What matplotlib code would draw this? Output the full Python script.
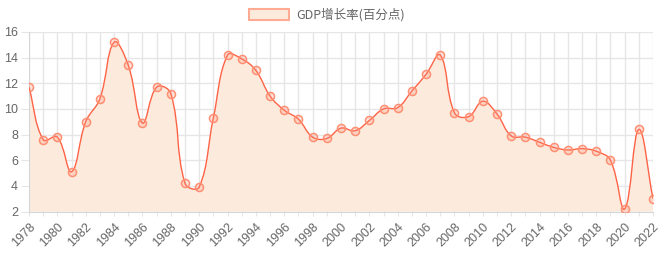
import numpy as np
import matplotlib
matplotlib.use("Agg")
import matplotlib.pyplot as plt
from matplotlib.path import Path
from matplotlib.patches import PathPatch, Rectangle

plt.rcParams['font.family'] = ['Liberation Sans', 'Noto Sans CJK SC', 'DejaVu Sans']

# DATA
years = list(range(1978, 2023))
growth = [11.7, 7.6, 7.8, 5.1, 9.0, 10.8, 15.2, 13.4, 8.9, 11.7,
          11.2, 4.2, 3.9, 9.3, 14.2, 13.9, 13.0, 11.0, 9.9, 9.2,
          7.8, 7.7, 8.5, 8.3, 9.1, 10.0, 10.1, 11.4, 12.7, 14.2,
          9.7, 9.4, 10.6, 9.6, 7.9, 7.8, 7.4, 7.0, 6.8, 6.9,
          6.7, 6.0, 2.2, 8.4, 3.0]
series_label = "GDP增长率(百分点)"
y_ticks = [2, 4, 6, 8, 10, 12, 14, 16]

LINE = "#ff6347"
MARK = "#ff8f73"
FILL = "#fcebdc"
GRID = "#e6e6e6"
TXT = "#666666"


def spline_path(ax, xs, ys, tension=0.4):
    # Chart.js style bezier smoothing, computed in pixel space
    pts = ax.transData.transform(np.column_stack([xs, ys]))
    n = len(pts)
    cps = []
    for i in range(n):
        cur = pts[i]
        prev = pts[i - 1] if i > 0 else cur
        nxt = pts[i + 1] if i < n - 1 else cur
        d01 = np.hypot(*(cur - prev))
        d12 = np.hypot(*(nxt - cur))
        tot = d01 + d12
        s01 = d01 / tot if tot else 0
        s12 = d12 / tot if tot else 0
        fa, fb = tension * s01, tension * s12
        cps.append((cur - fa * (nxt - prev), cur + fb * (nxt - prev)))
    verts = [pts[0]]
    codes = [Path.MOVETO]
    for i in range(1, n):
        verts += [cps[i - 1][1], cps[i][0], pts[i]]
        codes += [Path.CURVE4] * 3
    inv = ax.transData.inverted()
    return inv.transform(np.array(verts)), codes


fig = plt.figure(figsize=(6.6, 2.6), dpi=100)
ax = fig.add_axes([29 / 660, 1 - 211.5 / 260, 624 / 660, 179.5 / 260])
ax.set_xlim(years[0], years[-1])
ax.set_ylim(y_ticks[0], y_ticks[-1])

verts, codes = spline_path(ax, years, growth)
line_path = Path(verts, codes)
fill_verts = np.vstack([verts, [[years[-1], y_ticks[0]], [years[0], y_ticks[0]]], verts[:1]])
fill_codes = codes + [Path.LINETO, Path.LINETO, Path.CLOSEPOLY]
ax.add_patch(PathPatch(Path(fill_verts, fill_codes), facecolor=FILL, edgecolor='none', zorder=1))
ax.add_patch(PathPatch(line_path, facecolor='none', edgecolor=LINE, lw=1.0, zorder=3))
ax.plot(years, growth, ls='none', marker='o', ms=5.8, mfc=(1, 0.55, 0.45, 0.25),
        mec=MARK, mew=1.1, zorder=4)

ax.set_xticks(years)
ax.set_xticklabels([str(y) if y % 2 == 0 else '' for y in years],
                   rotation=45, ha='right', va='top', rotation_mode='anchor')
ax.set_yticks(y_ticks)
ax.grid(True, color=GRID, lw=1, zorder=0)
ax.set_axisbelow(True)
ax.tick_params(axis='y', length=6, color=GRID, labelcolor=TXT, labelsize=9, pad=2)
ax.tick_params(axis='x', length=3, color=GRID, labelcolor=TXT, labelsize=9, pad=4)
for side in ['top', 'right']:
    ax.spines[side].set_visible(False)
for side in ['left', 'bottom']:
    ax.spines[side].set_color('#d6d6d6')

# legend
fig.patches.append(Rectangle((249 / 660, 1 - 20 / 260), 40 / 660, 11 / 260,
                             transform=fig.transFigure, facecolor=FILL,
                             edgecolor="#ffab93", lw=1.5))
fig.text(296 / 660, 1 - 14.5 / 260, series_label, color=TXT, fontsize=9,
         va='center', ha='left', family=['Noto Sans CJK SC', 'DejaVu Sans'])

fig.savefig("out.png", dpi=100)
